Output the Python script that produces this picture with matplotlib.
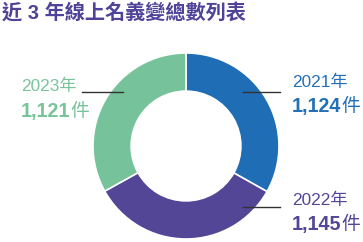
import matplotlib.pyplot as plt
from matplotlib.lines import Line2D

title = '近 3 年線上名義變總數列表'
years = ['2021年', '2022年', '2023年']
counts = [1124, 1145, 1121]
colors = ['#1f6db4', '#544697', '#76c39b']
text_colors = ['#2470b6', '#544697', '#78c49a']

W, H = 363, 242
fig = plt.figure(figsize=(W / 100, H / 100), dpi=100)

# donut axes: centre (186,146) px, radius 93 px
cx, cy, R = 186, 146, 93
ax = fig.add_axes([(cx - R) / W, (H - cy - R) / H, 2 * R / W, 2 * R / H])
ax.pie(counts, colors=colors, startangle=90, counterclock=False, radius=1,
       wedgeprops=dict(width=0.41, edgecolor='white', linewidth=1.2))
ax.set_xlim(-1, 1)
ax.set_ylim(-1, 1)
ax.set_aspect('equal')
ax.axis('off')


def fx(x):
    return x / W


def fy(y):
    return 1 - y / H


fam = ['Liberation Sans', 'Noto Sans CJK TC']
fig.text(fx(2), fy(19), title, color='#4f4399', fontsize=14.5, fontweight='bold',
         family=fam, va='baseline')

# label positions (px): text x, year baseline, count baseline, leader x0, x1, y
pos = [(292, 86.7, 112, 243, 280, 91.7),
       (292, 205, 230, 243, 280, 206.7),
       (21, 90.7, 117, 82, 123, 91.7)]
for yr, n, c, (tx, yb, nb, x0, x1, ly) in zip(years, counts, text_colors, pos):
    fig.text(fx(tx), fy(yb), yr, color=c, fontsize=12.4, family=fam, va='baseline')
    t = fig.text(fx(tx), fy(nb), f'{n:,}', color=c, fontsize=14.2, fontweight='bold',
                 family=fam, va='baseline')
    fig.canvas.draw()
    bb = t.get_window_extent()
    fig.text(bb.x1 / W, fy(nb), '件', color=c, fontsize=13.5, family=fam, va='baseline')
    fig.add_artist(Line2D([fx(x0), fx(x1)], [fy(ly), fy(ly)], color='#333333', lw=1))

fig.savefig('out.png', dpi=100)
